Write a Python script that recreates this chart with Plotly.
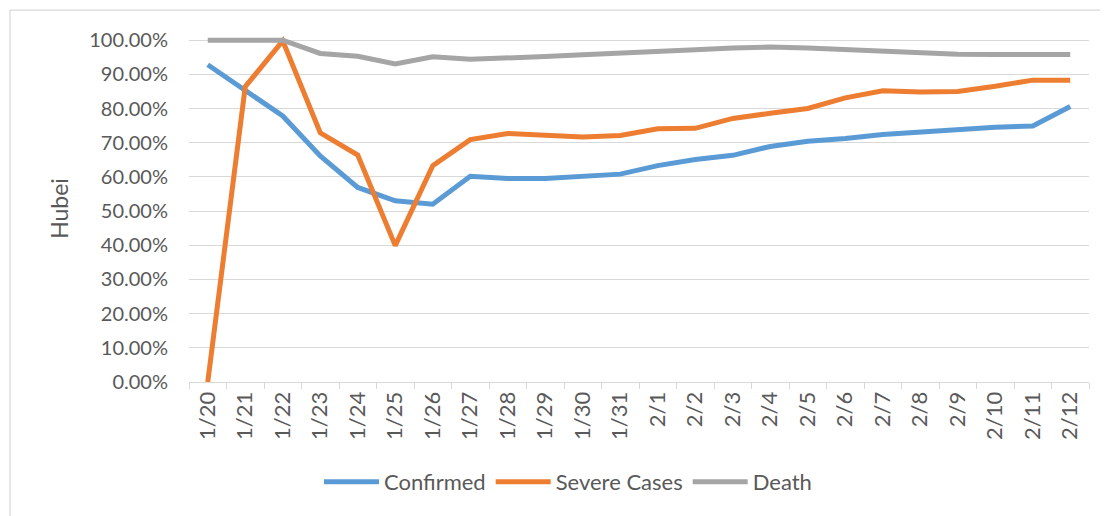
import plotly.graph_objects as go

dates = ["1/20", "1/21", "1/22", "1/23", "1/24", "1/25", "1/26", "1/27", "1/28", "1/29",
         "1/30", "1/31", "2/1", "2/2", "2/3", "2/4", "2/5", "2/6", "2/7", "2/8",
         "2/9", "2/10", "2/11", "2/12"]

confirmed = [0.928, 0.854, 0.778, 0.661, 0.569, 0.530, 0.520, 0.602, 0.595, 0.595,
             0.600, 0.608, 0.633, 0.651, 0.663, 0.689, 0.704, 0.712, 0.724, 0.731,
             0.739, 0.745, 0.749, 0.806]

severe = [0.0, 0.864, 0.998, 0.729, 0.664, 0.399, 0.633, 0.709, 0.727, 0.722,
          0.717, 0.721, 0.741, 0.742, 0.771, 0.786, 0.800, 0.831, 0.852, 0.848,
          0.850, 0.865, 0.883, 0.883]

death = [1.0, 1.0, 1.0, 0.961, 0.953, 0.930, 0.951, 0.944, 0.947, 0.952,
         0.957, 0.961, 0.968, 0.972, 0.977, 0.980, 0.977, 0.972, 0.968, 0.962,
         0.959, 0.958, 0.959, 0.958]

series = [("Confirmed", confirmed, "#5B9BD5"),
          ("Severe Cases", severe, "#ED7D31"),
          ("Death", death, "#A5A5A5")]

FONT = "Lato, 'Open Sans', sans-serif"

# page body has an 8px default margin; compensate so the plot lands where intended
OFF = 8
W, H = 1108, 516
PLOT_L, PLOT_R = 189 - OFF, 1089 - OFF      # in figure coordinates
Y100, Y0 = 40 - OFF, 382 - OFF
Y_TOP = 1.015  # small headroom so the 100% line is not clipped
PX_PER_UNIT = float(Y0 - Y100)
plot_h = PX_PER_UNIT * Y_TOP
plot_w = float(PLOT_R - PLOT_L)
top_margin = Y100 - (Y_TOP - 1.0) * PX_PER_UNIT
bottom_margin = H - Y0

fig = go.Figure()
for name, vals, color in series:
    fig.add_trace(go.Scatter(x=dates, y=vals, name=name, mode="lines",
                             line=dict(color=color, width=5)))

fig.update_layout(
    width=W, height=H,
    margin=dict(l=PLOT_L, r=W - PLOT_R, t=top_margin, b=bottom_margin, pad=0, autoexpand=False),
    paper_bgcolor="white", plot_bgcolor="white",
    font=dict(family=FONT, color="#595959", size=17),
    showlegend=True,
    legend=dict(orientation="h", x=(568 - 189) / 900, xanchor="center",
                y=-(461 - 382) / PX_PER_UNIT / Y_TOP, yanchor="top",
                font=dict(size=22, color="#595959"), itemwidth=55,
                bgcolor="rgba(0,0,0,0)"),
    xaxis=dict(type="category", range=[-0.5, 23.5], tickangle=-90, automargin=False,
               showgrid=False, showline=True, linecolor="#D9D9D9", linewidth=1,
               ticks="outside", tickson="boundaries", ticklen=6, tickcolor="#D9D9D9",
               tickfont=dict(size=22, color="#595959")),
    yaxis=dict(range=[0, Y_TOP], tickvals=[i / 10 for i in range(11)], tickformat=".2%",
               automargin=False,
               showgrid=True, gridcolor="#D9D9D9", gridwidth=1.3,
               zeroline=False, showline=False, ticks="", ticklabelstandoff=20,
               tickfont=dict(size=20, color="#595959"),
               title=dict(text="Hubei", font=dict(size=23, color="#595959"), standoff=14)),
    shapes=[dict(type="rect", xref="paper", yref="paper",
                 x0=(10 - 189) / 900, x1=1.3,
                 y0=-0.6, y1=1.0 + (top_margin - (10 - OFF)) / plot_h,
                 line=dict(color="#D9D9D9", width=1.3), layer="below")],
)

fig.write_html("out.html")
